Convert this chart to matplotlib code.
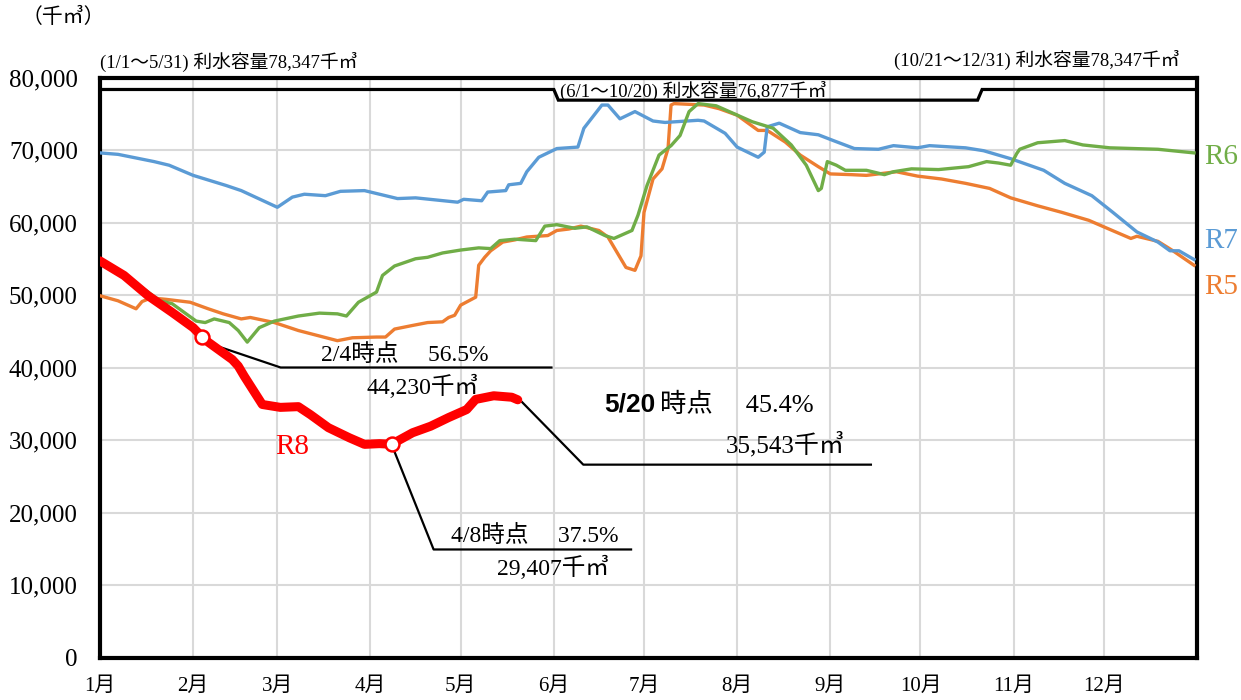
import matplotlib
matplotlib.use("Agg")
import matplotlib.pyplot as plt
from matplotlib.ticker import FuncFormatter

plt.rcParams['font.family'] = ['Liberation Serif', 'Noto Sans CJK JP', 'DejaVu Sans']

# ---- data (day of year, 0 = Jan 1; values in 千㎥) ----
month_starts = [0, 31, 59, 90, 120, 151, 181, 212, 243, 273, 304, 334]
month_labels = ["1月", "2月", "3月", "4月", "5月", "6月", "7月", "8月", "9月", "10月", "11月", "12月"]

r7_days = [0, 6, 18, 23, 31, 42, 47, 59, 64, 68, 75, 80, 88, 99, 105, 119, 121, 127, 129, 135, 136, 140,
           142, 146, 152, 159, 161, 167, 169, 173, 178, 184, 188, 199, 201, 208, 212, 219, 221, 222, 226,
           233, 239, 244, 251, 259, 264, 272, 276, 288, 294, 303, 314, 321, 330, 337, 345, 352, 356, 359, 364]
r7_vals = [69600, 69400, 68400, 67900, 66500, 65100, 64400, 62100, 63500, 63900, 63700, 64300, 64400, 63300,
           63400, 62800, 63200, 63000, 64200, 64400, 65200, 65400, 67000, 69000, 70200, 70400, 73000, 76200,
           76200, 74300, 75300, 74000, 73800, 74100, 74000, 72300, 70400, 69000, 69700, 73200, 73700, 72400,
           72100, 71300, 70200, 70100, 70600, 70300, 70600, 70300, 69900, 68800, 67200, 65400, 63700, 61400,
           58700, 57300, 56100, 56100, 54900]

r5_days = [0, 6, 12, 14, 17, 22, 30, 36, 41, 47, 50, 58, 66, 79, 84, 92, 95, 98, 104, 109, 114, 116, 118,
           120, 125, 126, 128, 130, 134, 138, 142, 149, 152, 156, 160, 166, 169, 172, 175, 178, 180, 181,
           184, 187, 189, 190, 191, 201, 206, 212, 219, 222, 228, 233, 239, 243, 250, 255, 265, 272, 280,
           288, 296, 303, 312, 320, 329, 334, 343, 345, 352, 357, 364]
r5_vals = [49900, 49200, 48100, 49100, 49600, 49400, 49000, 48100, 47400, 46700, 46900, 46200, 45100, 43700,
           44100, 44200, 44200, 45300, 45800, 46200, 46300, 46900, 47200, 48600, 49700, 54100, 55200, 56100,
           57300, 57600, 58000, 58200, 58900, 59100, 59500, 58900, 58000, 55900, 53800, 53400, 55400, 61400,
           66000, 67400, 70200, 76200, 76400, 76200, 75700, 74800, 72700, 72700, 71100, 69300, 67700, 66700,
           66600, 66500, 67000, 66400, 66000, 65400, 64700, 63400, 62300, 61400, 60300, 59400, 57800, 58100,
           57400, 56100, 54100]

r6_days = [0, 10, 20, 24, 28, 32, 35, 38, 43, 46, 49, 53, 58, 66, 73, 79, 82, 86, 92, 94, 98, 105, 109,
           114, 120, 126, 130, 133, 138, 145, 148, 152, 158, 162, 168, 171, 177, 179, 182, 186, 190, 193,
           196, 199, 205, 211, 217, 224, 230, 235, 239, 240, 242, 245, 248, 255, 261, 264, 270, 279, 289,
           295, 299, 303, 305, 306, 312, 321, 327, 336, 352, 364]
r6_vals = [54300, 52200, 49200, 48800, 47600, 46400, 46200, 46700, 46200, 45100, 43500, 45500, 46400, 47100,
           47500, 47400, 47100, 49000, 50400, 52700, 54000, 55000, 55200, 55800, 56200, 56500, 56400, 57500,
           57700, 57500, 59500, 59700, 59200, 59400, 58200, 57800, 58900, 61000, 65100, 69300, 70600, 72000,
           75300, 76400, 76100, 75000, 73900, 73000, 70700, 67900, 64400, 64700, 68400, 67900, 67200, 67200,
           66600, 67000, 67400, 67300, 67700, 68400, 68200, 67900, 69500, 70100, 71000, 71300, 70700, 70300,
           70100, 69600]

r8_days = [0, 8, 16, 24, 31, 34, 36, 40, 44, 46, 48, 54, 60, 66, 70, 76, 83, 88, 93, 97, 104, 110, 116,
           122, 125, 131, 137, 139]
r8_vals = [54700, 52700, 49900, 47600, 45500, 44230, 43500, 42300, 41100, 40200, 38800, 34900, 34500, 34600,
           33500, 31700, 30300, 29400, 29500, 29407, 31000, 31900, 33100, 34200, 35600, 36100, 35900, 35543]

cap_days = [0, 151, 152.5, 292, 293.5, 365]
cap_vals = [78347, 78347, 76877, 76877, 78347, 78347]

marker_days = [34, 97]
marker_vals = [44230, 29407]

C_R5 = '#ED7D31'
C_R6 = '#70AD47'
C_R7 = '#5B9BD5'
C_R8 = '#FF0000'

fig = plt.figure(figsize=(12.41, 7.0), dpi=100)
ax = fig.add_axes([100 / 1241, 42.5 / 700, 1097 / 1241, 580 / 700])

ax.set_xlim(0, 365)
ax.set_ylim(0, 80000)
ax.set_xticks(month_starts)
ax.set_xticklabels(month_labels, fontsize=15)
ax.set_yticks(range(0, 80001, 10000))
ax.yaxis.set_major_formatter(FuncFormatter(lambda v, p: f"{int(v):,}"))
ax.tick_params(axis='y', length=0, pad=16, labelsize=18)
ax.tick_params(axis='x', length=0, pad=14)
ax.grid(True, color='#D9D9D9', lw=1.5)
ax.set_axisbelow(True)
for s in ax.spines.values():
    s.set_linewidth(3)
    s.set_color('black')

ax.plot(cap_days, cap_vals, color='black', lw=2.3, zorder=3, solid_joinstyle='miter')
ax.plot(r5_days, r5_vals, color=C_R5, lw=2.4, zorder=4)
ax.plot(r7_days, r7_vals, color=C_R7, lw=2.4, zorder=5)
ax.plot(r6_days, r6_vals, color=C_R6, lw=2.4, zorder=6)
ax.plot(r8_days, r8_vals, color=C_R8, lw=6.5, zorder=7, solid_capstyle='round')
ax.plot(marker_days, marker_vals, 'o', ms=10, mfc='white', mec=C_R8, mew=1.8, zorder=8, ls='none')

# leader lines
ax.plot([37.2, 60.1, 150.2], [43200, 40000, 40000], color='black', lw=1.6, zorder=3)
ax.plot([97.3, 111, 176.7], [29100, 14900, 14900], color='black', lw=1.6, zorder=3)
ax.plot([140.5, 160.8, 256.5], [35200, 26600, 26600], color='black', lw=1.6, zorder=3)

ax.text(101.3, 41700, "2/4時点　 56.5%", fontsize=17, ha='center', va='center', zorder=9)
ax.text(107.3, 37300, "44,230千㎥", fontsize=17, ha='center', va='center', zorder=9)
ax.text(144.5, 16700, "4/8時点　 37.5%", fontsize=17, ha='center', va='center', zorder=9)
ax.text(150.8, 12400, "29,407千㎥", fontsize=17, ha='center', va='center', zorder=9)
ax.text(184.7, 34900, "5/20", fontsize=19, fontweight='bold', family=['Liberation Sans', 'DejaVu Sans'],
        ha='right', va='center', zorder=9)
ax.text(186.3, 34900, "時点　 45.4%", fontsize=19, ha='left', va='center', zorder=9)
ax.text(228, 29400, "35,543千㎥", fontsize=18, ha='center', va='center', zorder=9)

# series labels
ax.text(373, 69100, "R6", color=C_R6, fontsize=21, ha='center', va='center', clip_on=False)
ax.text(373, 57500, "R7", color=C_R7, fontsize=21, ha='center', va='center', clip_on=False)
ax.text(373, 51100, "R5", color=C_R5, fontsize=21, ha='center', va='center', clip_on=False)
ax.text(63.8, 29100, "R8", color=C_R8, fontsize=21, ha='center', va='center')

# capacity texts
ax.text(153, 77300, "(6/1～10/20) 利水容量76,877千㎥", fontsize=13.5, ha='left', va='baseline', zorder=9)
fig.text(100 / 1241, 1 - 62 / 700, "(1/1～5/31) 利水容量78,347千㎥", fontsize=13.5, ha='left', va='center')
fig.text(1180 / 1241, 1 - 60 / 700, "(10/21～12/31) 利水容量78,347千㎥", fontsize=13.5, ha='right', va='center')
fig.text(22 / 1241, 1 - 18 / 700, "（千㎥）", fontsize=15, ha='left', va='center')

fig.savefig("out.png", dpi=100)
